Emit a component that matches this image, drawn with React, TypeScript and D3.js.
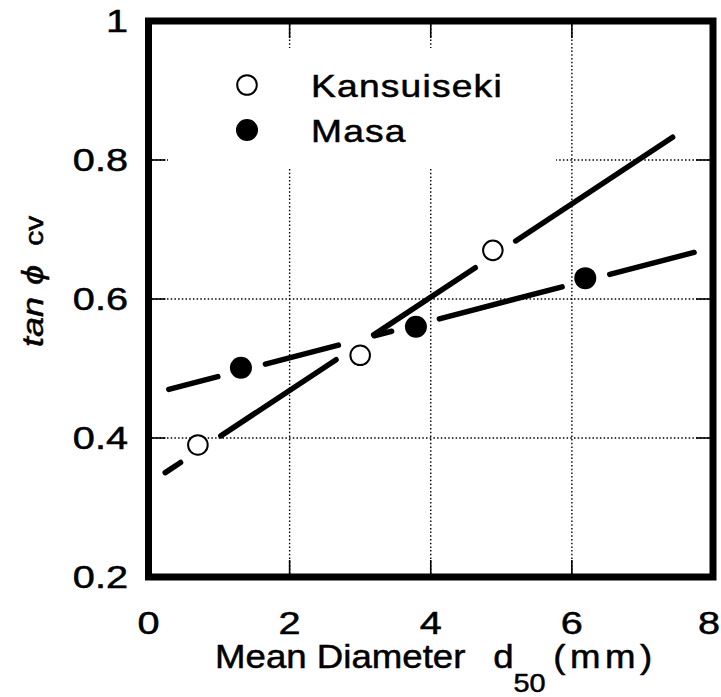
import React from 'react';
import * as d3 from 'd3';

const xTicks = [0, 2, 4, 6, 8];
const xTickLabels = ['0', '2', '4', '6', '8'];
const yTicks = [0.2, 0.4, 0.6, 0.8, 1];
const yTickLabels = ['0.2', '0.4', '0.6', '0.8', '1'];
const gridX = [2, 4, 6];
const gridY = [0.4, 0.6, 0.8];
const seriesNames = ['Kansuiseki', 'Masa'];
const kansX = [0.7, 3.0, 4.88];
const kansY = [0.39, 0.519, 0.67];
const masaX = [1.31, 3.79, 6.19];
const masaY = [0.501, 0.56, 0.63];
const kansFitX = [0.205, 7.46];
const kansFitY = [0.348, 0.835];
const masaFitX = [0.25, 7.77];
const masaFitY = [0.469, 0.668];

const W = 721;
const H = 697;
const L = 148.5, R = 713, T = 21, B = 577;
const FONT = '"Liberation Sans", Arial, Helvetica, sans-serif';

const x = d3.scaleLinear().domain([0, 8]).range([L, R]);
const y = d3.scaleLinear().domain([0.2, 1]).range([B, T]);

const allPts: [number, number][] = [
  ...kansX.map((v, i) => [v, kansY[i]] as [number, number]),
  ...masaX.map((v, i) => [v, masaY[i]] as [number, number]),
];

function fitSegments(fx: number[], fy: number[]) {
  const x0 = x(fx[0]), y0 = y(fy[0]), x1 = x(fx[1]), y1 = y(fy[1]);
  const len = Math.hypot(x1 - x0, y1 - y0);
  const ux = (x1 - x0) / len, uy = (y1 - y0) / len;
  const cap = 2.75, Rg = 22, thr = 15.5;
  const gaps: [number, number][] = [];
  for (const p of allPts) {
    const px = x(p[0]), py = y(p[1]);
    const t = (px - x0) * ux + (py - y0) * uy;
    const d = Math.abs(-(px - x0) * uy + (py - y0) * ux);
    if (d < thr) {
      const h = Math.sqrt(Rg * Rg - d * d) + cap;
      gaps.push([t - h, t + h]);
    }
  }
  gaps.sort((a, b) => a[0] - b[0]);
  const segs: [number, number][] = [];
  let cur = cap;
  for (const g of gaps) {
    if (g[0] > cur) segs.push([cur, g[0]]);
    cur = Math.max(cur, g[1]);
  }
  if (cur < len - cap) segs.push([cur, len - cap]);
  const line = d3.line<[number, number]>();
  return segs.map(s => line([
    [x0 + ux * s[0], y0 + uy * s[0]],
    [x0 + ux * s[1], y0 + uy * s[1]],
  ]) as string);
}

const textStyle = { fontFamily: FONT, fill: '#000', stroke: '#000', strokeWidth: 0.5 } as const;

export default function App() {
  const kansSegs = fitSegments(kansFitX, kansFitY);
  const masaSegs = fitSegments(masaFitX, masaFitY);
  const tickLen = 17;
  return (
    <svg width={W} height={H} style={{ position: 'absolute', left: 0, top: 0, background: '#fff' }}>
      <rect x={0} y={0} width={W} height={H} fill="#fff" />
      {/* grid */}
      {gridX.map(v => (
        <line key={'gx' + v} x1={x(v)} x2={x(v)} y1={T} y2={B} stroke="#000" strokeWidth={1.4} strokeDasharray="1.5,2.2" />
      ))}
      {gridY.map(v => (
        <line key={'gy' + v} x1={L} x2={R} y1={y(v)} y2={y(v)} stroke="#000" strokeWidth={1.4} strokeDasharray="1.5,2.2" />
      ))}
      {/* legend background hides grid */}
      <rect x={168} y={48} width={388} height={119} fill="#fff" />
      {/* ticks */}
      {gridX.map(v => (
        <g key={'tx' + v}>
          <line x1={x(v)} x2={x(v)} y1={B} y2={B - tickLen} stroke="#000" strokeWidth={1.6} />
          <line x1={x(v)} x2={x(v)} y1={T} y2={T + tickLen} stroke="#000" strokeWidth={1.6} />
        </g>
      ))}
      {gridY.map(v => (
        <g key={'ty' + v}>
          <line x1={L} x2={L + tickLen} y1={y(v)} y2={y(v)} stroke="#000" strokeWidth={1.6} />
          <line x1={R} x2={R - tickLen} y1={y(v)} y2={y(v)} stroke="#000" strokeWidth={1.6} />
        </g>
      ))}
      {/* fit lines */}
      {kansSegs.map((d, i) => (
        <path key={'ks' + i} d={d} stroke="#000" strokeWidth={5.5} strokeLinecap="round" fill="none" />
      ))}
      {masaSegs.map((d, i) => (
        <path key={'ms' + i} d={d} stroke="#000" strokeWidth={5.5} strokeLinecap="round" fill="none" />
      ))}
      {/* points */}
      {kansX.map((v, i) => (
        <circle key={'kp' + i} cx={x(v)} cy={y(kansY[i])} r={9.8} fill="#fff" stroke="#000" strokeWidth={2} />
      ))}
      {masaX.map((v, i) => (
        <circle key={'mp' + i} cx={x(v)} cy={y(masaY[i])} r={11} fill="#000" />
      ))}
      {/* frame */}
      <rect x={L} y={T} width={R - L} height={B - T} fill="none" stroke="#000" strokeWidth={7} />
      {/* legend */}
      <circle cx={247} cy={85} r={9.8} fill="#fff" stroke="#000" strokeWidth={2} />
      <circle cx={247} cy={130} r={11} fill="#000" />
      <text transform={`translate(311,97) scale(1.2,1)`} fontSize={31} letterSpacing={1} style={textStyle}>{seriesNames[0]}</text>
      <text transform={`translate(311,142) scale(1.2,1)`} fontSize={31} letterSpacing={1} style={textStyle}>{seriesNames[1]}</text>
      {/* y tick labels */}
      {yTicks.map((v, i) => (
        <text key={'yl' + v} transform={`translate(128,${y(v) + 11}) scale(1.28,1)`} fontSize={31} textAnchor="end" style={textStyle}>{yTickLabels[i]}</text>
      ))}
      {/* x tick labels */}
      {xTicks.map((v, i) => (
        <text key={'xl' + v} transform={`translate(${Math.min(x(v), W - 12)},634) scale(1.28,1)`} fontSize={31} textAnchor="middle" style={textStyle}>{xTickLabels[i]}</text>
      ))}
      {/* x title */}
      <text transform="translate(215,668) scale(1.11,1)" fontSize={33} style={textStyle}>
        <tspan>Mean Diameter</tspan>
        <tspan dx={25}>d</tspan>
        <tspan fontSize={26} dy={24}>50</tspan>
        <tspan dx={7} dy={-24} letterSpacing={4}>(mm)</tspan>
      </text>
      {/* y title */}
      <text transform="translate(43,347) rotate(-90) scale(1.2,1)" fontSize={30} style={textStyle}>
        <tspan fontStyle="italic">tan</tspan>
        <tspan dx={10} fontStyle="italic">{'\u03D5'}</tspan>
        <tspan dx={16} fontSize={25}>cv</tspan>
      </text>
    </svg>
  );
}
